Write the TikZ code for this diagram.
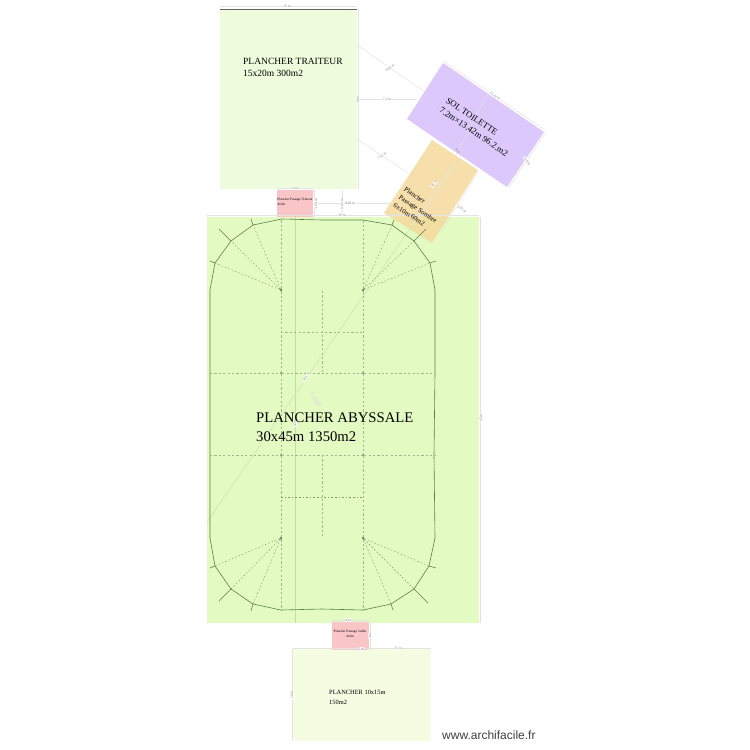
\documentclass[tikz,border=0pt]{standalone}
\usepackage{fontspec}
\setmainfont{Liberation Serif}
\newfontfamily\webfont{Liberation Sans}
\definecolor{bigfloor}{HTML}{E3FAC3}
\definecolor{traiteur}{HTML}{EEFCDD}
\definecolor{lowfloor}{HTML}{F4FDE1}
\definecolor{passage}{HTML}{F9C5C7}
\definecolor{toilet}{HTML}{DCC8FB}
\definecolor{sombre}{HTML}{F6D798}
\definecolor{tent}{HTML}{5F7F48}
\definecolor{axisgreen}{HTML}{C4DCA6}
\definecolor{diaggreen}{HTML}{D3EAB6}
\definecolor{griddash}{HTML}{9DB98A}
\definecolor{raftdash}{HTML}{7E9A68}
\tikzset{
  floorbox/.style={draw=none},
  dimline/.style={draw=black!11,line width=.5pt},
  axisline/.style={draw=#1,line width=.8pt},
  dimtext/.style={text=black!50,font=\fontsize{3.6}{4}\selectfont,inner sep=.5pt,fill=white,fill opacity=.8,text opacity=1},
  tentline/.style={draw=tent,line width=.6pt},
  tentdash/.style={draw=raftdash,line width=.4pt,dash pattern=on 1.6pt off 2pt},
  gridline/.style={draw=griddash,line width=.4pt,dash pattern=on 2.2pt off 2.2pt},
  pole/.style={circle,fill=tent!80!black,inner sep=0pt,minimum size=2.4pt},
  floortext/.style={align=left,anchor=west,inner sep=0pt,text=black},
}
\begin{document}
\begin{tikzpicture}[x=1pt,y=-1pt]
\useasboundingbox (0,0) rectangle (750,750);
\fill[white] (0,0) rectangle (750,750);
% floors
\fill[floorbox,fill=traiteur] (220,9) rectangle (357,189);
\fill[floorbox,fill=bigfloor] (207,217) rectangle (479,623);
\fill[floorbox,fill=lowfloor] (293,649) rectangle (431,741);
\fill[floorbox,fill=passage] (277,190) rectangle (313,217);
\fill[floorbox,fill=passage] (332,622) rectangle (369,650);
\fill[floorbox,fill=toilet] (443,63) -- (544,132) -- (507,187) -- (407,119) -- cycle;
\fill[floorbox,fill=sombre,fill opacity=.8] (432,140) -- (478,170) -- (432,243) -- (384,213) -- cycle;
\draw[draw=black!60,line width=.8pt] (220,9) -- (357,9);
% dimension lines
\draw[dimline] (220,6) -- (357,6);
\draw[dimline] (358,9) -- (358,189);
\draw[dimline] (207,215) -- (479,215);
\draw[dimline] (480,217) -- (480,623);
\draw[dimline] (357,45) -- (425,92);
\draw[dimline] (358,99) -- (417,99);
\draw[dimline] (357,139) -- (408,173);
\draw[dimline] (314,203) -- (390,203);
\draw[dimline] (342,190) -- (342,217);
\draw[dimline] (277,188) -- (313,188);
\draw[dimline] (314,190) -- (314,217);
\draw[dimline] (443,61) -- (545,130);
\draw[dimline] (546,132) -- (509,187);
\draw[dimline] (478,172) -- (441,232);
\draw[dimline] (332,620) -- (369,620);
\draw[dimline] (370,622) -- (370,650);
\draw[dimline] (293,648) -- (431,648);
\draw[dimline] (292,649) -- (292,741);
% structural axis lines
\draw[axisline=axisgreen] (295,217) -- (295,623);
\draw[axisline=diaggreen] (207,522) -- (310,373) -- (384,266);
\draw[axisline=diaggreen] (384,266) -- (412,226);
\draw[draw=black!10,line width=.7pt] (412,226) -- (456,162);
\draw[draw=black!12,line width=.6pt] (488,93) -- (456,155);
% tent outline
\draw[tentline] (210,290) -- (215,263) -- (231,241) -- (253,225) -- (282,219)
  -- (322,220) -- (363,220) -- (392,225) -- (414,241) -- (430,263) -- (435,290)
  -- (435,373) -- (434,455) -- (435,538) -- (429,566) -- (414,589) -- (391,604)
  -- (363,610) -- (322,609) -- (281,610) -- (253,604) -- (231,589) -- (215,566)
  -- (210,538) -- (210,455) -- (210,373) -- cycle;
% whiskers
\draw[tentline] (231,241) -- (219,229);
\draw[tentline] (215,263) -- (210,261);
\draw[tentline] (253,225) -- (251,219);
\draw[tentline] (392,225) -- (394,220);
\draw[tentline] (414,241) -- (426,229);
\draw[tentline] (430,263) -- (436,261);
\draw[tentline] (215,566) -- (210,568);
\draw[tentline] (231,589) -- (219,601);
\draw[tentline] (253,604) -- (251,611);
\draw[tentline] (391,604) -- (393,610);
\draw[tentline] (414,589) -- (428,603);
\draw[tentline] (429,566) -- (436,568);
% tent poles
\node[pole] (p1) at (281,290) {};
\node[pole] (p2) at (363,290) {};
\node[pole] (p3) at (281,538) {};
\node[pole] (p4) at (363,538) {};
\node[pole,minimum size=1.8pt] (p5) at (281,373) {};
\node[pole,minimum size=1.8pt] (p6) at (363,373) {};
\node[pole,minimum size=1.8pt] (p7) at (281,455) {};
\node[pole,minimum size=1.8pt] (p8) at (363,455) {};
% dashed rafters
\draw[tentdash] (p1) -- (253,225) (p1) -- (231,241) (p1) -- (215,263);
\draw[tentdash] (p2) -- (392,225) (p2) -- (414,241) (p2) -- (430,263);
\draw[tentdash] (p3) -- (253,604) (p3) -- (231,589) (p3) -- (215,566);
\draw[tentdash] (p4) -- (391,604) (p4) -- (414,589) (p4) -- (429,566);
\draw[gridline] (p1) -- (281,219) (p2) -- (363,220) (p3) -- (281,610) (p4) -- (363,610);
\draw[gridline] (p1) -- (p5) -- (p7) -- (p3);
\draw[gridline] (p2) -- (p6) -- (p8) -- (p4);
\draw[gridline] (210,373) -- (p5) -- (p6) -- (435,373);
\draw[gridline] (210,455) -- (p7) -- (p8) -- (435,455);
\draw[gridline] (322,291) -- (322,373);
\draw[gridline] (281,332) -- (363,332);
\draw[gridline] (322,455) -- (322,538);
\draw[tentdash] (281,497) -- (363,497);
% dimension labels
\node[dimtext] (d1) at (287,6) {15 m};
\node[dimtext,rotate=90] (d2) at (358,100) {20 m};
\node[dimtext] (d3) at (342,215) {30 m};
\node[dimtext,rotate=90] (d4) at (481,418) {45 m};
\node[dimtext,rotate=90] (d5) at (295,423) {45 m};
\node[dimtext,rotate=55] (d6) at (306,377) {54.5 m};
\node[dimtext,rotate=35] (d7) at (390,68) {8.05 m};
\node[dimtext] (d8) at (387,99) {7.1 m};
\node[dimtext,rotate=35] (d9) at (382,156) {7.55 m};
\node[dimtext] (d10) at (350,203) {8.48 m};
\node[dimtext] (d11) at (295,188) {4 m};
\node[dimtext,rotate=90] (d12) at (316,204) {3.04 m};
\node[dimtext,rotate=90] (d13) at (342,204) {0.82 m};
\node[dimtext,rotate=-34] (d14) at (495,96) {13.42 m};
\node[dimtext,rotate=-56] (d15) at (527,161) {7.18 m};
\node[dimtext,rotate=-56,fill=none] (d16) at (458,151) {0 m};
\node[dimtext,rotate=57] (d17) at (434,184) {10 m};
\node[dimtext,rotate=-35] (d18) at (462,209) {5.03 m};
\node[dimtext] (d19) at (348,620) {4 m};
\node[dimtext,rotate=90] (d20) at (370,636) {3 m};
\node[dimtext] (d21) at (361,649) {3 m};
\node[dimtext] (d22) at (398,648) {15 m};
\node[dimtext,rotate=90] (d23) at (292,695) {10 m};
% faint watermark
\node[text=black!14,font=\fontsize{8}{8}\selectfont,rotate=-55,inner sep=0pt] (mark) at (316,400) {Loge};
% floor labels
\node[floortext,font=\fontsize{9.5}{12}\selectfont] (t1) at (243,67) {PLANCHER TRAITEUR\\15x20m 300m2};
\node[floortext,font=\fontsize{14.7}{19.5}\selectfont] (t2) at (256,427) {PLANCHER ABYSSALE\\30x45m 1350m2};
\node[floortext,font=\fontsize{6.4}{10}\selectfont] (t3) at (329,697) {PLANCHER 10x15m\\150m2};
\node[align=left,inner sep=0pt,rotate=-34,font=\fontsize{8.8}{11.5}\selectfont] (t4) at (477,127) {SOL TOILETTE\\7.2m×13.42m 96.2.m2};
\node[align=left,inner sep=0pt,rotate=-34,font=\fontsize{6.8}{9.5}\selectfont] (t5) at (418,209) {Plancher\\Passage Sombre\\6x10m 60m2};
\node[align=left,inner sep=0pt,font=\fontsize{3.4}{4.4}\selectfont] (t6) at (295,202) {Plancher Passage Traiteur\\4x3m};
\node[align=center,inner sep=0pt,font=\fontsize{3.4}{4.4}\selectfont] (t7) at (350,634) {Plancher Passage Jardin\\4x3m};
\node[anchor=west,inner sep=0pt,text=black!75,font=\webfont\fontsize{12}{12}\selectfont] (web) at (442,735) {www.archifacile.fr};
\end{tikzpicture}
\end{document}
